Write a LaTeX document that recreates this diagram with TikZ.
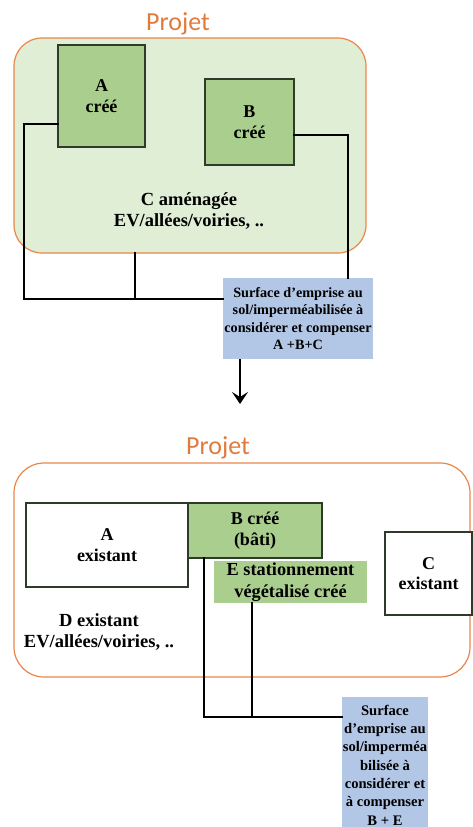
\documentclass[tikz,border=0pt]{standalone}
\usepackage{fontspec}
\setmainfont{Liberation Serif}
\newfontfamily\titlefont{Carlito}
\usetikzlibrary{arrows.meta,calc}
\definecolor{projorange}{HTML}{E9874A}
\definecolor{titleorange}{HTML}{E07B3C}
\definecolor{lightgreen}{HTML}{E0EED6}
\definecolor{midgreen}{HTML}{A9CE8E}
\definecolor{boxblue}{HTML}{B2C6E6}
\definecolor{boxline}{HTML}{2E3A2A}
\tikzset{
  projtitle/.style={font=\titlefont\fontsize{26}{28}\selectfont, text=titleorange, inner sep=0pt},
  projbox/.style={draw=projorange, line width=1.2pt, rectangle, inner sep=0pt},
  greenbox/.style={draw=boxline, fill=midgreen, line width=1.6pt, rectangle, inner sep=0pt, align=center,
     font=\bfseries\fontsize{18}{20.5}\selectfont},
  whitebox/.style={draw=boxline, fill=white, line width=1.4pt, rectangle, inner sep=0pt, align=center,
     font=\bfseries\fontsize{18}{20.5}\selectfont},
  plaingreen/.style={fill=midgreen, rectangle, inner sep=0pt, align=center,
     font=\bfseries\fontsize{18.3}{22}\selectfont},
  bluebox/.style={fill=boxblue, rectangle, inner sep=0pt, align=center},
  plaintext/.style={inner sep=0pt, align=center, font=\bfseries\fontsize{18.5}{21}\selectfont},
  conn/.style={draw=black, line width=2.8pt, line cap=rect},
  downarrow/.style={draw=black, line width=2.6pt, -{Stealth[length=12pt,width=16pt,inset=5pt]}}
}
\begin{document}
\begin{tikzpicture}[x=1pt,y=-1pt]
\clip (0,0) rectangle (473,827);
\fill[white] (0,0) rectangle (473,827);

% ---------- upper diagram ----------
\node[projtitle] (title1) at (178,24) {Projet};
\node[projbox, fill=lightgreen, rounded corners=28pt, minimum width=352pt, minimum height=215pt] (proj1) at (190,145.5) {};
\node[greenbox, minimum width=87pt, minimum height=102pt] (A1) at (101.5,96) {A\\créé};
\node[greenbox, minimum width=89pt, minimum height=86pt] (B1) at (249.5,122) {B\\créé};
\node[plaintext] (C1) at (189,211.5) {C aménagée\\EV/allées/voiries, ..};
\node[bluebox, minimum width=150pt, minimum height=81pt, font=\bfseries\fontsize{14.2}{17.2}\selectfont] (blue1) at (298,318.5)
  {Surface d'emprise au\\sol/imperméabilisée à\\considérer et compenser\\A +B+C};

\coordinate (k1) at (24,299);
\coordinate (k2) at (135,299);
\coordinate (k3) at (348,135);
\coordinate (k4) at (240,404);
\draw[conn] ([yshift=-28pt]A1.west) -| (k1) -- (blue1.west |- k1);
\draw[conn] (k2 |- proj1.south) -- (k2);
\draw[conn] ([yshift=-13pt]B1.east) -- (k3) -- (k3 |- blue1.north);
\draw[downarrow] (k4 |- blue1.south) -- (k4);

% ---------- lower diagram ----------
\node[projtitle] (title2) at (218,448) {Projet};
\node[projbox, fill=white, rounded corners=30pt, minimum width=456pt, minimum height=214pt] (proj2) at (242,570) {};
\node[whitebox, minimum width=162pt, minimum height=84pt] (A2) at (107,545) {A\\existant};
\node[greenbox, minimum width=134pt, minimum height=55pt] (B2) at (255,530.5) {B créé\\(bâti)};
\node[plaingreen, minimum width=153pt, minimum height=42pt] (E2) at (290.5,582) {E stationnement\\végétalisé créé};
\node[whitebox, minimum width=87pt, minimum height=83pt] (C2) at (428.5,573.5) {C\\existant};
\node[plaintext] (D2) at (99,632) {D existant\\EV/allées/voiries, ..};
\node[bluebox, minimum width=86pt, minimum height=136pt, font=\bfseries\fontsize{14.6}{18.3}\selectfont] (blue2) at (385,765)
  {Surface\\d'emprise au\\sol/imperméa\\bilisée à\\considérer et\\à compenser\\B + E};

\coordinate (m1) at (204,717);
\coordinate (m2) at (252,717);
\draw[conn] (m1 |- B2.south) -- (m1) -- (blue2.west |- m1);
\draw[conn] (m2 |- E2.south) -- (m2);
\end{tikzpicture}
\end{document}
